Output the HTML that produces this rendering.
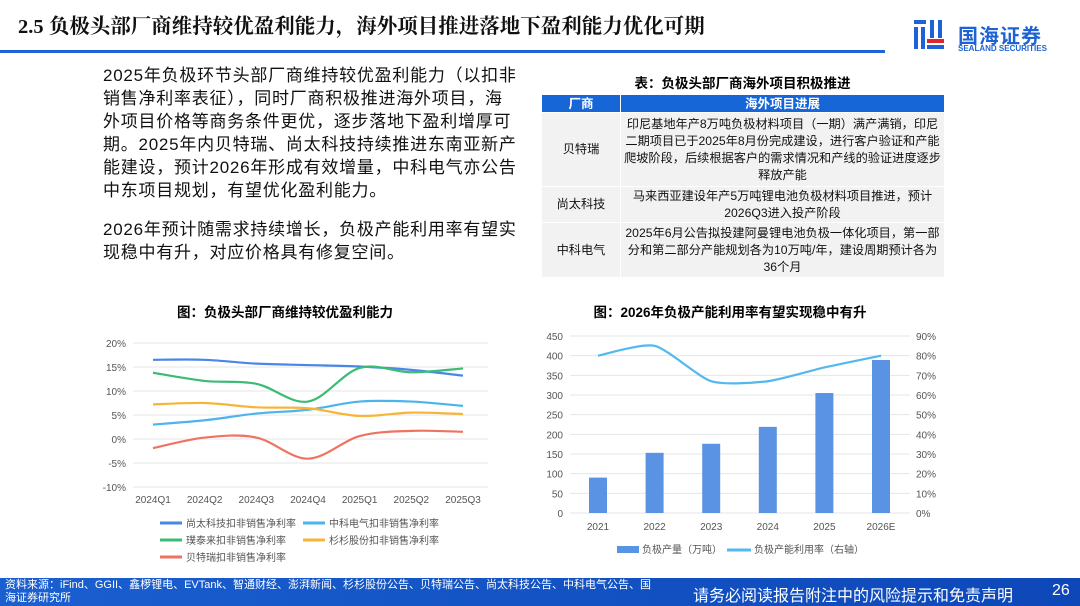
<!DOCTYPE html>
<html><head><meta charset="utf-8">
<style>
body{margin:0;width:1080px;height:606px;overflow:hidden;background:#fff;font-family:"Liberation Sans","Noto Sans CJK SC",sans-serif;position:relative}
.abs{position:absolute}
#body-text{left:103px;top:64px;width:440px;font-size:17px;line-height:23px;color:#111;white-space:nowrap;letter-spacing:0.75px}
#body-text p{margin:0 0 16px 0}
table{border-collapse:collapse;font-size:12.2px;color:#111}
td,th{border:1px solid #fff;text-align:center;padding:0 2px;line-height:17px}
th{background:#1666d8;color:#fff;font-size:12.5px;height:17px;line-height:16px}
td{background:#f2f2f2}
</style></head><body>
<div class="abs" style="left:18px;top:9px;font-size:20.5px;font-weight:bold;color:#111;font-family:'Liberation Serif','Noto Serif CJK SC',serif">2.5 负极头部厂商维持较优盈利能力，海外项目推进落地下盈利能力优化可期</div>
<div class="abs" style="left:0;top:50px;width:885px;height:3px;background:#1e63d6"></div>
<div class="abs" style="left:912px;top:17px;width:34px;height:36px">
<svg width="34" height="36"><rect x="2" y="3" width="12" height="4" fill="#1e63d6"/><rect x="2" y="10" width="4" height="22" fill="#1e63d6"/><rect x="9" y="10" width="4" height="22" fill="#1e63d6"/><rect x="18" y="3" width="4" height="18" fill="#1e63d6"/><rect x="26" y="3" width="4" height="18" fill="#1e63d6"/><rect x="15" y="22" width="17" height="4" fill="#e0262c"/><rect x="15" y="28" width="17" height="4" fill="#1e63d6"/></svg></div>
<div class="abs" style="left:958px;top:20px;font-size:20px;font-weight:bold;color:#1e63d6;letter-spacing:1px">国海证券</div>
<div class="abs" style="left:958px;top:44px;font-size:8px;font-weight:bold;color:#1e63d6">SEALAND SECURITIES</div>

<div id="body-text" class="abs">
<p>2025年负极环节头部厂商维持较优盈利能力（以扣非<br>销售净利率表征），同时厂商积极推进海外项目，海<br>外项目价格等商务条件更优，逐步落地下盈利增厚可<br>期。2025年内贝特瑞、尚太科技持续推进东南亚新产<br>能建设，预计2026年形成有效增量，中科电气亦公告<br>中东项目规划，有望优化盈利能力。</p>
<p>2026年预计随需求持续增长，负极产能利用率有望实<br>现稳中有升，对应价格具有修复空间。</p>
</div>

<div class="abs" style="left:541px;top:72px;width:403px;text-align:center;font-size:13.5px;font-weight:bold">表：负极头部厂商海外项目积极推进</div>
<table class="abs" style="left:541px;top:94px;width:404px">
<tr><th style="width:74px">厂商</th><th>海外项目进展</th></tr>
<tr style="height:74px"><td>贝特瑞</td><td>印尼基地年产8万吨负极材料项目（一期）满产满销，印尼<br>二期项目已于2025年8月份完成建设，进行客户验证和产能<br>爬坡阶段，后续根据客户的需求情况和产线的验证进度逐步<br>释放产能</td></tr>
<tr style="height:36px"><td>尚太科技</td><td>马来西亚建设年产5万吨锂电池负极材料项目推进，预计<br>2026Q3进入投产阶段</td></tr>
<tr style="height:55px"><td>中科电气</td><td>2025年6月公告拟投建阿曼锂电池负极一体化项目，第一部<br>分和第二部分产能规划各为10万吨/年，建设周期预计各为<br>36个月</td></tr>
</table>

<div class="abs" style="left:100px;top:301px;width:370px;text-align:center;font-size:13.5px;font-weight:bold">图：负极头部厂商维持较优盈利能力</div>
<div class="abs" style="left:545px;top:301px;width:370px;text-align:center;font-size:13.5px;font-weight:bold">图：2026年负极产能利用率有望实现稳中有升</div>

<svg id="c1" class="abs" style="left:0;top:0" width="1080" height="606"></svg>

<div class="abs" style="left:0;top:578px;width:1080px;height:28px;background:linear-gradient(90deg,#1a5fd0,#0d47b8)"></div>
<div class="abs" style="left:5px;top:579px;width:680px;font-size:11px;line-height:13px;color:#fff;white-space:nowrap">资料来源：iFind、GGII、鑫椤锂电、EVTank、智通财经、澎湃新闻、杉杉股份公告、贝特瑞公告、尚太科技公告、中科电气公告、国<br>海证券研究所</div>
<div class="abs" style="left:693px;top:582px;font-size:16px;color:#fff">请务必阅读报告附注中的风险提示和免责声明</div>
<div class="abs" style="left:1052px;top:582px;font-size:16px;color:#fff">26</div>

<script>
const quarters=["2024Q1","2024Q2","2024Q3","2024Q4","2025Q1","2025Q2","2025Q3"];
const shangtai=[16.5,16.5,15.7,15.4,15.1,14.4,13.2];
const zhongke=[3.0,3.9,5.3,6.1,7.8,7.8,6.9];
const putailai=[13.8,12.1,11.5,7.8,14.8,13.9,14.7];
const shanshan=[7.2,7.5,6.6,6.4,4.8,5.5,5.2];
const btr=[-1.9,0.3,0.3,-4.1,0.6,1.7,1.5];
const yTicks1=[20,15,10,5,0,-5,-10];
const years=["2021","2022","2023","2024","2025","2026E"];
const output=[90,153,176,219,305,389];
const util=[80,85,67,67,74,80];
const yTicksL=[0,50,100,150,200,250,300,350,400,450];
const yTicksR=[0,10,20,30,40,50,60,70,80,90];

const NS="http://www.w3.org/2000/svg";
const svg=document.getElementById('c1');
function mk(t,a,txt){const e=document.createElementNS(NS,t);for(const k in a)e.setAttribute(k,a[k]);if(txt!==undefined)e.textContent=txt;svg.appendChild(e);return e;}
function smooth(pts,k){k=k||6;let d="M"+pts[0][0]+","+pts[0][1];for(let i=0;i<pts.length-1;i++){const p0=pts[i-1]||pts[i],p1=pts[i],p2=pts[i+1],p3=pts[i+2]||p2;const c1x=p1[0]+(p2[0]-p0[0])/k,c1y=p1[1]+(p2[1]-p0[1])/k,c2x=p2[0]-(p3[0]-p1[0])/k,c2y=p2[1]-(p3[1]-p1[1])/k;d+=` C${c1x},${c1y} ${c2x},${c2y} ${p2[0]},${p2[1]}`;}return d;}

// chart 1
const x1=i=>153+i*(463-153)/(quarters.length-1);
const y1=v=>439-v*(439-343)/20;
yTicks1.forEach(t=>{
 let g=mk('line',{x1:133,x2:488,y1:y1(t),y2:y1(t),stroke:'#e6e6e6','stroke-width':1});
 
 let l=mk('text',{x:126,y:y1(t)+4,'text-anchor':'end','font-size':10,fill:'#555'},t+'%');
 
});
quarters.forEach((q,i)=>{let l=mk('text',{x:x1(i),y:503,'text-anchor':'middle','font-size':10,fill:'#555'},q);
 });
const s1=[[shangtai,'#4a86e8','尚太科技扣非销售净利率',160,523],[zhongke,'#4db3ec','中科电气扣非销售净利率',303,523],[putailai,'#3cbb75','璞泰来扣非销售净利率',160,540],[shanshan,'#f7b538','杉杉股份扣非销售净利率',303,540],[btr,'#ee7360','贝特瑞扣非销售净利率',160,557]];
s1.forEach(([arr,c,name,lx,ly])=>{
 let p=mk('path',{d:smooth(arr.map((v,i)=>[x1(i),y1(v)])),fill:'none',stroke:c,'stroke-width':2.2});
 
 let ll=mk('line',{x1:lx,x2:lx+22,y1:ly,y2:ly,stroke:c,'stroke-width':3});
 
 let lt=mk('text',{x:lx+26,y:ly+4,'font-size':10,fill:'#555'},name);
 
});

// chart 2
const x2=i=>598+i*(881-598)/(years.length-1);
const yL=v=>513-v*(513-336)/450;
const yR=v=>513-v*(513-336)/90;
yTicksL.forEach((t,k)=>{
 let g=mk('line',{x1:570,x2:910,y1:yL(t),y2:yL(t),stroke:'#e6e6e6','stroke-width':1});
 
 let l=mk('text',{x:563,y:yL(t)+4,'text-anchor':'end','font-size':10,fill:'#555'},t);
 
});
yTicksR.forEach(t=>{let l=mk('text',{x:916,y:yR(t)+4,'font-size':10,fill:'#555'},t+'%');
 });
years.forEach((yv,i)=>{
 let b=mk('rect',{x:x2(i)-9,y:yL(output[i]),width:18,height:513-yL(output[i]),fill:'#5a93e3'});
 
 let l=mk('text',{x:x2(i),y:530,'text-anchor':'middle','font-size':10,fill:'#555'},yv);
 
});
let ul=mk('path',{d:smooth(util.map((v,i)=>[x2(i),yR(v)]),9),fill:'none',stroke:'#52b8ee','stroke-width':2.2});

let r1=mk('rect',{x:617,y:546,width:22,height:7,fill:'#5a93e3'});

let t1=mk('text',{x:642,y:553,'font-size':10,fill:'#555'},'负极产量（万吨）');

let r2=mk('line',{x1:727,x2:751,y1:550,y2:550,stroke:'#52b8ee','stroke-width':3});

let t2=mk('text',{x:754,y:553,'font-size':10,fill:'#555'},'负极产能利用率（右轴）');

</script>
</body></html>
